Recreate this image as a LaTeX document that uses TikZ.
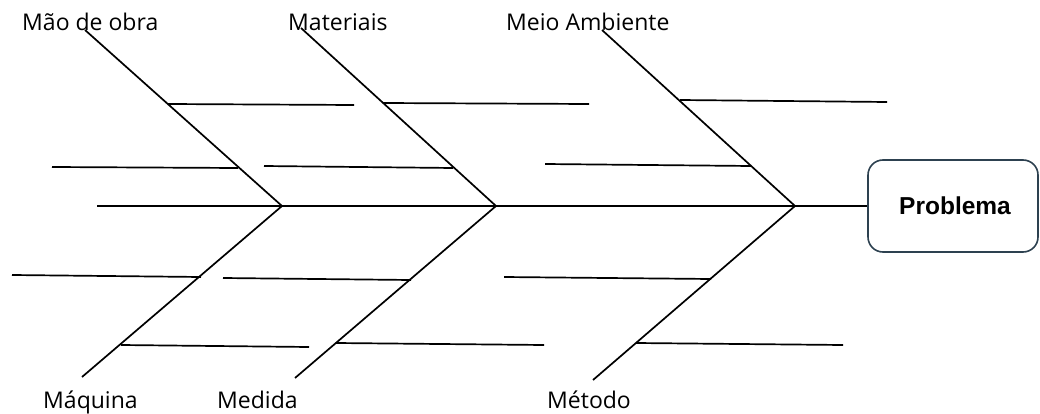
\documentclass[tikz,border=0pt]{standalone}
\usepackage{fontspec}
\setmainfont{Open Sans}
\newfontfamily\probfont{Liberation Sans}
\definecolor{boxline}{RGB}{45,65,80}
\begin{document}
\begin{tikzpicture}[x=1pt,y=-1pt,
  bone/.style={line width=1.7pt,black},
  lbl/.style={anchor=base west,inner sep=0pt,font=\fontsize{23}{27}\selectfont},
  probbox/.style={draw=boxline,line width=1.6pt,rounded corners=15pt,minimum width=170pt,minimum height=92pt,inner sep=0pt,font=\probfont\fontsize{24.5}{28}\selectfont\bfseries}]
\useasboundingbox (0,0) rectangle (1040,414);
% problem box
\node[probbox] (prob) at (953,206) {\hspace*{4pt}Problema};
% labels
\node[lbl] (lmao) at (22,31) {Mão de obra};
\node[lbl] (lmat) at (288,31) {Materiais};
\node[lbl] (lmeio) at (506,31) {Meio Ambiente};
\node[lbl] (lmaq) at (43,408) {Máquina};
\node[lbl] (lmed) at (217,408) {Medida};
\node[lbl] (lmet) at (547,408) {Método};
% spine
\coordinate (s0) at (97,206);
\coordinate (j1) at (282,206);
\coordinate (j2) at (496,206);
\coordinate (j3) at (795,206);
\draw[bone] (s0) -- (j1) -- (j2) -- (j3) -- (prob.west);
% upper bones
\coordinate (t1) at (85,30);
\coordinate (t2) at (301,28);
\coordinate (t3) at (602,30);
\draw[bone] (t1) -- (j1);
\draw[bone] (t2) -- (j2);
\draw[bone] (t3) -- (j3);
% lower bones
\coordinate (b1) at (82,377);
\coordinate (b2) at (295,378);
\coordinate (b3) at (593,380);
\draw[bone] (j1) -- (b1);
\draw[bone] (j2) -- (b2);
\draw[bone] (j3) -- (b3);
% sub branches: Mao de obra
\coordinate (a1) at (168,104); \coordinate (a1e) at (354,105);
\coordinate (a2s) at (52,167); \coordinate (a2) at (238,168);
\draw[bone] (a1) -- (a1e);
\draw[bone] (a2s) -- (a2);
% Materiais
\coordinate (m1) at (383,103); \coordinate (m1e) at (589,104);
\coordinate (m2s) at (264,166); \coordinate (m2) at (453,168);
\draw[bone] (m1) -- (m1e);
\draw[bone] (m2s) -- (m2);
% Meio Ambiente
\coordinate (e1) at (680,100); \coordinate (e1e) at (887,102);
\coordinate (e2s) at (545,164); \coordinate (e2) at (751,166);
\draw[bone] (e1) -- (e1e);
\draw[bone] (e2s) -- (e2);
% Maquina
\coordinate (q1s) at (12,275); \coordinate (q1) at (201,277);
\coordinate (q2) at (121,345); \coordinate (q2e) at (309,347);
\draw[bone] (q1s) -- (q1);
\draw[bone] (q2) -- (q2e);
% Medida
\coordinate (d1s) at (223,278); \coordinate (d1) at (411,280);
\coordinate (d2) at (336,343); \coordinate (d2e) at (544,345);
\draw[bone] (d1s) -- (d1);
\draw[bone] (d2) -- (d2e);
% Metodo
\coordinate (t1s) at (504,277); \coordinate (t1e) at (711,279);
\coordinate (t2b) at (636,343); \coordinate (t2e) at (843,345);
\draw[bone] (t1s) -- (t1e);
\draw[bone] (t2b) -- (t2e);
\end{tikzpicture}
\end{document}
